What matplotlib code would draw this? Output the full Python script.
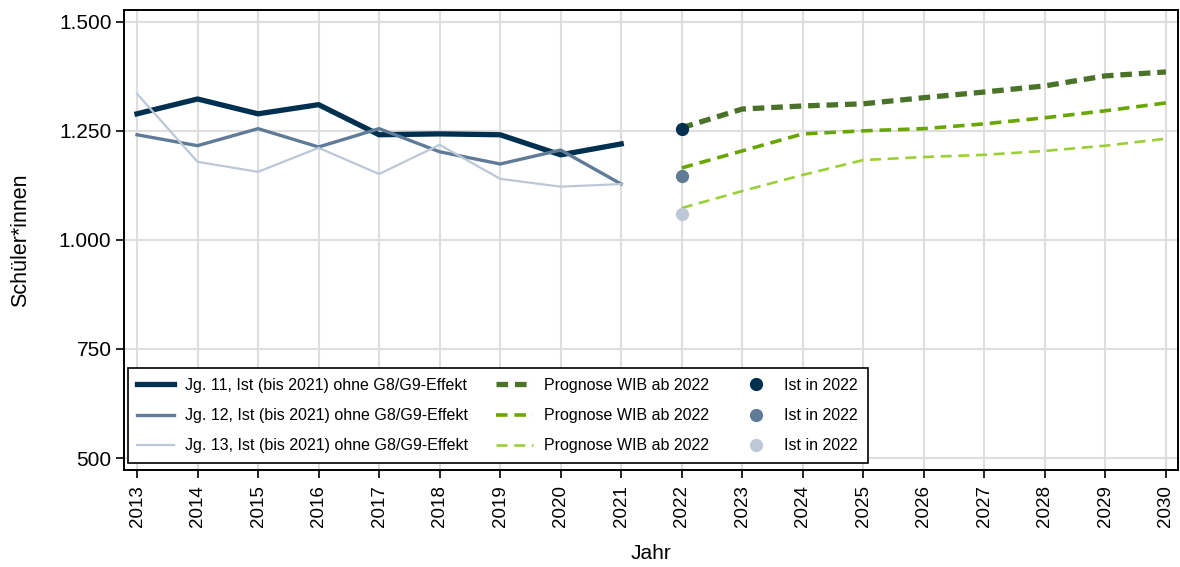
import matplotlib.pyplot as plt
from matplotlib.ticker import FuncFormatter

plt.rcParams['font.family'] = ['Liberation Sans', 'DejaVu Sans']

# Ist-Werte 2013-2021
jahre_ist = [2013, 2014, 2015, 2016, 2017, 2018, 2019, 2020, 2021]
jg11_ist = [1289, 1323, 1289, 1310, 1241, 1243, 1241, 1195, 1220]
jg12_ist = [1241, 1216, 1255, 1213, 1255, 1202, 1174, 1206, 1128]
jg13_ist = [1335, 1179, 1156, 1211, 1151, 1218, 1140, 1122, 1128]

# Prognose WIB ab 2022
jahre_prog = [2022, 2023, 2024, 2025, 2026, 2027, 2028, 2029, 2030]
jg11_prog = [1257, 1300, 1307, 1312, 1326, 1339, 1353, 1376, 1385]
jg12_prog = [1165, 1204, 1243, 1250, 1255, 1266, 1280, 1296, 1314]
jg13_prog = [1073, 1112, 1149, 1183, 1190, 1195, 1204, 1216, 1232]

# Ist in 2022
ist_2022 = [1255, 1147, 1060]

blau = ['#00304f', '#5f7b98', '#bcc8d6']
gruen = ['#4a7229', '#6aa600', '#9bcf37']

fig = plt.figure(figsize=(11.8, 5.67), dpi=100)
ax = fig.add_axes([124 / 1180, 97 / 567, 1054 / 1180, 460 / 567])

ax.plot(jahre_ist, jg11_ist, color=blau[0], lw=3.8, label='Jg. 11, Ist (bis 2021) ohne G8/G9-Effekt', zorder=3)
ax.plot(jahre_ist, jg12_ist, color=blau[1], lw=2.4, label='Jg. 12, Ist (bis 2021) ohne G8/G9-Effekt', zorder=3)
ax.plot(jahre_ist, jg13_ist, color=blau[2], lw=1.6, label='Jg. 13, Ist (bis 2021) ohne G8/G9-Effekt', zorder=3)

ax.plot(jahre_prog, jg11_prog, color=gruen[0], lw=3.8, ls=(0, (2.2, 1.3)), label='Prognose WIB ab 2022', zorder=3)
ax.plot(jahre_prog, jg12_prog, color=gruen[1], lw=2.6, ls=(0, (3.2, 1.9)), label='Prognose WIB ab 2022', zorder=3)
ax.plot(jahre_prog, jg13_prog, color=gruen[2], lw=1.9, ls=(0, (4.2, 2.5)), label='Prognose WIB ab 2022', zorder=3)

for wert, farbe in zip(ist_2022, blau):
    ax.plot([2022], [wert], 'o', color=farbe, ms=8.5, label='Ist in 2022', zorder=4)

ax.set_xlim(2012.785, 2030.2)
ax.set_ylim(472.5, 1527)
ax.set_xticks(range(2013, 2031))
ax.set_yticks([500, 750, 1000, 1250, 1500])
ax.yaxis.set_major_formatter(FuncFormatter(lambda v, p: f'{int(v):,}'.replace(',', '.')))
ax.tick_params(axis='x', labelrotation=90, labelsize=13.5, length=6, width=1.2, pad=5)
ax.tick_params(axis='y', labelsize=15, length=6, width=1.2, pad=3)
ax.grid(True, color='#dedede', lw=1.5)
ax.set_axisbelow(True)
for s in ax.spines.values():
    s.set_linewidth(1.4)
    s.set_color('black')

ax.set_xlabel('Jahr', fontsize=15, labelpad=12)
ax.set_ylabel('Schüler*innen', fontsize=15.5, labelpad=20)

leg = ax.legend(ncol=3, loc='lower left', bbox_to_anchor=(-0.003, 0.0), fontsize=11.5,
                frameon=True, fancybox=False, edgecolor='black', framealpha=1,
                handlelength=2.3, handletextpad=0.65, columnspacing=1.8,
                labelspacing=0.95, borderpad=0.6, borderaxespad=0.44)
leg.get_frame().set_linewidth(1.2)

fig.savefig('out.png', dpi=100)
